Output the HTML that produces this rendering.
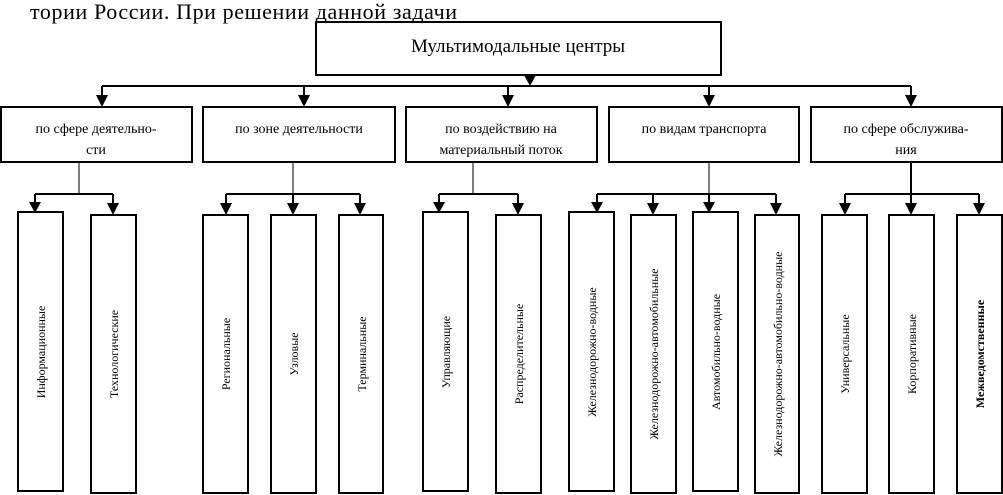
<!DOCTYPE html>
<html><head><meta charset="utf-8"><style>
html,body{margin:0;padding:0;background:#fff;}
svg{display:block;}
text{font-family:"Liberation Serif",serif;}
</style></head><body>
<svg width="1003" height="495" viewBox="0 0 1003 495" xmlns="http://www.w3.org/2000/svg" font-family="Liberation Serif, serif">
<text x="30" y="19" font-size="22" letter-spacing="0.6" font-family="Liberation Serif, serif">тории России. При решении данной задачи</text>
<g fill="none" stroke="#000" stroke-width="2">
<rect x="316" y="22" width="405" height="53"/>
<rect x="1" y="107" width="191" height="55"/>
<rect x="203" y="107" width="192" height="55"/>
<rect x="406" y="107" width="191" height="55"/>
<rect x="609" y="107" width="190" height="55"/>
<rect x="811" y="107" width="191" height="55"/>
<path d="M102,86 H911"/>
<path d="M102,86 V100 M304,86 V100 M508,86 V100 M709,86 V100 M911,86 V100"/>
<path d="M35,194 H113 M226,194 H360 M439,194 H518 M597,194 H776 M845,194 H979"/>
<path d="M35,194 V205 M113,194 V205 M226,194 V205 M293,194 V205 M360,194 V205 M439,194 V205 M518,194 V205 M597,194 V205 M653,194 V205 M709,194 V205 M776,194 V205 M845,194 V205 M911,194 V205 M979,194 V205"/>
<rect x="18" y="212" width="45" height="279"/><rect x="91" y="215" width="45" height="278"/>
<rect x="203" y="215" width="45" height="278"/><rect x="271" y="215" width="45" height="278"/><rect x="339" y="215" width="44" height="278"/>
<rect x="423" y="212" width="45" height="279"/><rect x="496" y="215" width="45" height="278"/>
<rect x="569" y="212" width="45" height="279"/><rect x="631" y="215" width="45" height="278"/><rect x="693" y="212" width="45" height="279"/><rect x="755" y="215" width="44" height="278"/>
<rect x="822" y="215" width="45" height="278"/><rect x="889" y="215" width="45" height="278"/><rect x="957" y="215" width="45" height="278"/>
</g>
<g fill="#000">
<polygon points="524,75 536,75 530,86"/>
<polygon points="96,95 108,95 102,107"/>
<polygon points="298,95 310,95 304,107"/>
<polygon points="502,95 514,95 508,107"/>
<polygon points="703,95 715,95 709,107"/>
<polygon points="905,95 917,95 911,107"/>
<polygon points="29,202 41,202 35,213"/>
<polygon points="107,203 119,203 113,215"/>
<polygon points="220,203 232,203 226,215"/>
<polygon points="287,203 299,203 293,215"/>
<polygon points="354,203 366,203 360,215"/>
<polygon points="433,202 445,202 439,213"/>
<polygon points="512,203 524,203 518,215"/>
<polygon points="591,202 603,202 597,213"/>
<polygon points="647,203 659,203 653,215"/>
<polygon points="703,202 715,202 709,213"/>
<polygon points="770,203 782,203 776,215"/>
<polygon points="839,203 851,203 845,215"/>
<polygon points="905,203 917,203 911,215"/>
<polygon points="973,203 985,203 979,215"/>
</g>
<g stroke="#000" stroke-width="1"><path d="M79,162 V194 M293,162 V194 M473,162 V194 M709,162 V194"/></g>
<path d="M911,162 V194" stroke="#000" stroke-width="2"/>
<text x="518" y="52" font-size="19" text-anchor="middle">Мультимодальные центры</text>
<g font-size="14" text-anchor="middle">
<text x="96" y="133">по сфере деятельно-</text><text x="96" y="154">сти</text>
<text x="299" y="133">по зоне деятельности</text>
<text x="501" y="133">по воздействию на</text><text x="501" y="154">материальный поток</text>
<text x="704" y="133">по видам транспорта</text>
<text x="906" y="133">по сфере обслужива-</text><text x="906" y="154">ния</text>
</g>
<g font-size="12" text-anchor="middle">
<text transform="translate(45,352) rotate(-90)">Информационные</text>
<text transform="translate(118,354) rotate(-90)">Технологические</text>
<text transform="translate(230,354) rotate(-90)">Региональные</text>
<text transform="translate(298,354) rotate(-90)">Узловые</text>
<text transform="translate(366,354) rotate(-90)">Терминальные</text>
<text transform="translate(450,352) rotate(-90)">Управляющие</text>
<text transform="translate(523,354) rotate(-90)">Распределительные</text>
<text transform="translate(596,352) rotate(-90)">Железнодорожно-водные</text>
<text transform="translate(658,354) rotate(-90)">Железнодорожно-автомобильные</text>
<text transform="translate(720,352) rotate(-90)">Автомобильно-водные</text>
<text transform="translate(782,354) rotate(-90)">Железнодорожно-автомобильно-водные</text>
<text transform="translate(849,354) rotate(-90)">Универсальные</text>
<text transform="translate(916,354) rotate(-90)">Корпоративные</text>
<text transform="translate(984,354) rotate(-90)" font-weight="bold">Межведомственные</text>
</g>
</svg>
</body></html>
